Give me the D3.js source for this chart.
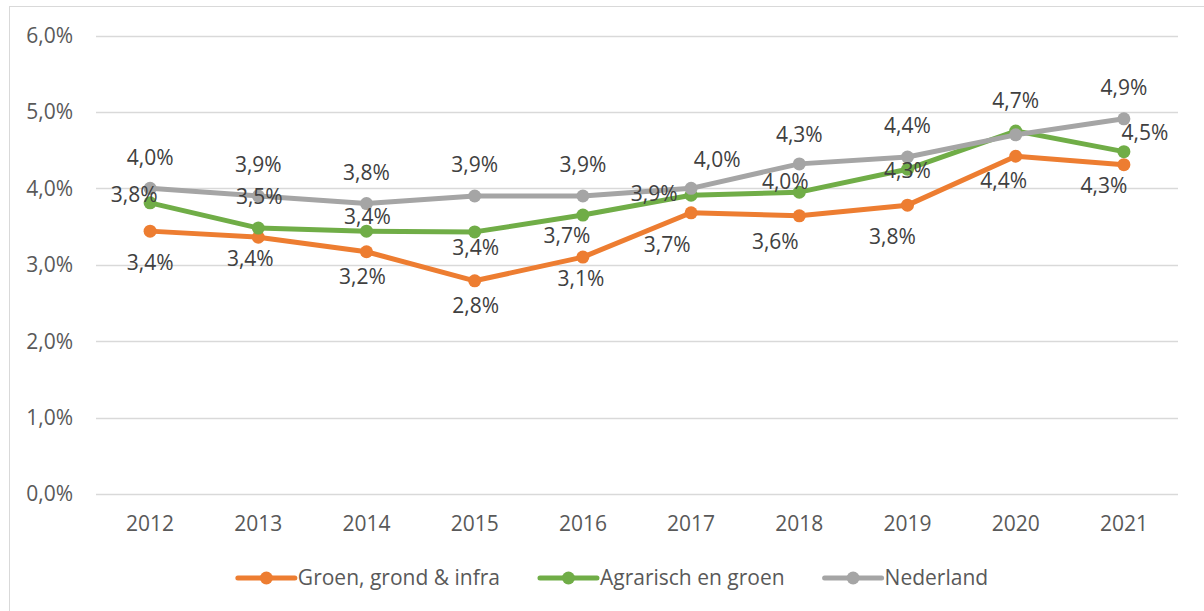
<!DOCTYPE html>
<html>
<head>
<meta charset="utf-8">
<script src="https://cdn.jsdelivr.net/npm/d3@7"></script>
<style>
    body { margin: 0; background: #fff; }
    text { font-family: "Open Sans", "Noto Sans", sans-serif; }
</style>
</head>
<body>
<div id="chart"></div>
<script>

// data
let years = ["2012", "2013", "2014", "2015", "2016", "2017", "2018", "2019", "2020", "2021"];
let groenGrondInfra = [3.44, 3.36, 3.17, 2.79, 3.10, 3.68, 3.64, 3.78, 4.42, 4.31];
let agrarischEnGroen = [3.81, 3.48, 3.44, 3.43, 3.65, 3.91, 3.95, 4.25, 4.75, 4.48];
let nederland = [4.00, 3.90, 3.80, 3.90, 3.90, 4.00, 4.32, 4.41, 4.70, 4.91];
let seriesNames = ["Groen, grond & infra", "Agrarisch en groen", "Nederland"];
let yTicks = [0, 1, 2, 3, 4, 5, 6];

// label offsets (dx, dy) from each point, as placed in the original
let labelOffsetsOrange = [[0, 32], [-8, 21], [-4, 25], [1, 25], [-2, 22], [-24, 32], [-24, 26], [-15, 32], [-12, 24], [-20, 21]];
let labelOffsetsGreen = [[-16, -8], [1, -31], [1, -14], [1, 16], [-16, 21], [-37, -2], [-14, -11], [0, 1], null, [21, -19]];
let labelOffsetsGrey = [[0, -31], [0, -31], [0, -31], [0, -31], [0, -31], [26, -29], [0, -29], [0, -31], [0, -34], [0, -31]];

let colors = ["#ED7D31", "#70AD47", "#A5A5A5"];
let fontSize = "21px";

let width = 1204, height = 611;
let margin = {top: 35.5, right: 26, bottom: 117, left: 96};

let svg = d3.select("#chart").append("svg")
    .attr("width", width)
    .attr("height", height);

// chart frame (only left and top edges are visible in the crop)
svg.append("rect")
    .attr("x", 9.5).attr("y", 6.5)
    .attr("width", 1220).attr("height", 640)
    .attr("fill", "none")
    .attr("stroke", "#D9D9D9");

let x = d3.scaleBand()
    .domain(years)
    .range([margin.left, width - margin.right]);

let y = d3.scaleLinear()
    .domain([0, 6])
    .range([height - margin.bottom, margin.top]);

// gridlines
svg.append("g")
    .selectAll("line")
    .data(yTicks)
    .enter()
    .append("line")
    .attr("x1", margin.left)
    .attr("x2", width - margin.right)
    .attr("y1", d => Math.round(y(d)) + 0.5)
    .attr("y2", d => Math.round(y(d)) + 0.5)
    .attr("stroke", "#D9D9D9")
    .attr("stroke-width", 1.3);

// y labels
let pct = d => d3.format(".1f")(d).replace(".", ",") + "%";

svg.append("g")
    .selectAll("text")
    .data(yTicks)
    .enter()
    .append("text")
    .attr("x", 73)
    .attr("y", d => y(d))
    .attr("dy", "0.35em")
    .attr("text-anchor", "end")
    .attr("fill", "#595959")
    .style("font-size", fontSize)
    .text(d => pct(d));

// x axis labels
let xAxis = d3.axisBottom(x).tickSize(0).tickPadding(0);
let xg = svg.append("g")
    .attr("transform", `translate(0, 524)`)
    .call(xAxis);
xg.select(".domain").remove();
xg.selectAll("text")
    .attr("y", 0)
    .attr("dy", "0.35em")
    .attr("fill", "#595959")
    .style("font-size", fontSize)
    .style("font-family", "'Open Sans', 'Noto Sans', sans-serif");

let allSeries = [
    {name: seriesNames[0], values: groenGrondInfra, color: colors[0], offsets: labelOffsetsOrange},
    {name: seriesNames[1], values: agrarischEnGroen, color: colors[1], offsets: labelOffsetsGreen},
    {name: seriesNames[2], values: nederland, color: colors[2], offsets: labelOffsetsGrey}
];

let line = d3.line()
    .x((d, i) => x(years[i]) + x.bandwidth() / 2)
    .y(d => y(d));

let seriesG = svg.append("g");

allSeries.forEach(s => {
    let g = seriesG.append("g");
    g.append("path")
        .datum(s.values)
        .attr("d", line)
        .attr("fill", "none")
        .attr("stroke", s.color)
        .attr("stroke-width", 5)
        .attr("stroke-linejoin", "round")
        .attr("stroke-linecap", "round");
    g.selectAll("circle")
        .data(s.values)
        .enter()
        .append("circle")
        .attr("cx", (d, i) => x(years[i]) + x.bandwidth() / 2)
        .attr("cy", d => y(d))
        .attr("r", 6.5)
        .attr("fill", s.color);
});

// data labels on top
let labelG = svg.append("g");
allSeries.forEach(s => {
    s.values.forEach((v, i) => {
        let off = s.offsets[i];
        if (!off) return; // hidden under another label
        labelG.append("text")
            .attr("x", x(years[i]) + x.bandwidth() / 2 + off[0])
            .attr("y", y(v) + off[1])
            .attr("dy", "0.35em")
            .attr("text-anchor", "middle")
            .attr("fill", "#404040")
            .style("font-size", fontSize)
            .text(pct(Math.round(v * 10) / 10));
    });
});

// legend
let legend = svg.append("g").attr("transform", "translate(0, 578)");
let items = [];
allSeries.forEach(s => {
    let item = legend.append("g");
    item.append("line")
        .attr("x1", 0).attr("x2", 57)
        .attr("stroke", s.color)
        .attr("stroke-width", 5)
        .attr("stroke-linecap", "round");
    item.append("circle")
        .attr("cx", 28.5).attr("r", 6.5)
        .attr("fill", s.color);
    let t = item.append("text")
        .attr("x", 60)
        .attr("dy", "0.35em")
        .attr("fill", "#595959")
        .style("font-size", fontSize)
        .text(s.name);
    items.push({g: item, w: 60 + t.node().getComputedTextLength()});
});
let gap = 40;
let total = d3.sum(items, d => d.w) + gap * (items.length - 1);
let lx = 613 - total / 2;
items.forEach(it => {
    it.g.attr("transform", `translate(${lx}, 0)`);
    lx += it.w + gap;
});

</script>
</body>
</html>
